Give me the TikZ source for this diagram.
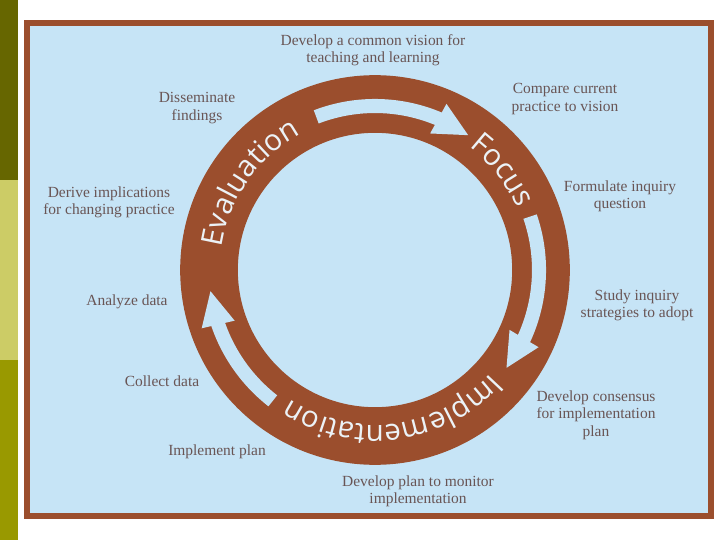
\documentclass[tikz,border=0pt]{standalone}
\usepackage{fontspec}
\setmainfont{Liberation Serif}
\newfontfamily\ringfont{Open Sans}
\usetikzlibrary{decorations.text,arrows.meta,bending}

\definecolor{ringbrown}{RGB}{155,78,45}
\definecolor{paleblue}{RGB}{198,228,246}
\definecolor{ringwhite}{RGB}{236,242,246}
\definecolor{labelgray}{RGB}{105,85,85}
\definecolor{olivedark}{RGB}{102,102,0}
\definecolor{olivelight}{RGB}{204,204,102}
\definecolor{olivemid}{RGB}{153,153,0}

\begin{document}
\begin{tikzpicture}[
 x=0.025cm, y=0.025cm,
 label/.style={text=labelgray, align=center, inner sep=0pt, font=\fontsize{11}{12.3}\selectfont},
 channel/.style={paleblue, line width=10pt, -{Triangle[width=22pt,length=25pt]}},
 ringtext/.style={decorate, decoration={text along path, text align=center, text color=ringwhite,
   text={|\ringfont\fontsize{21}{24}\selectfont|#1}}}
]
\useasboundingbox (0,0) rectangle (720,540);

% Randstreifen
\fill[olivemid] (0,0) rectangle (18,180);
\fill[olivelight] (0,180) rectangle (18,360);
\fill[olivedark] (0,360) rectangle (18,540);

% Rahmen
\draw[ringbrown, line width=3.9pt, fill=paleblue] (26.8,23.8) rectangle (711,517.2);

% Ring
\draw[ringbrown, line width=41pt] (375,270) circle[radius=166];

% Pfeile im Ring
\draw[channel] (375,270) ++(111:164) arc[start angle=111, end angle=55, radius=164];
\draw[channel] (375,270) ++(19:164) arc[start angle=19, end angle=-37, radius=164];
\draw[channel] (375,270) ++(232:166) arc[start angle=232, end angle=187, radius=166];

% Phasen
\path[ringtext=Evaluation] (375,270) ++(200:155) arc[start angle=200, end angle=90, radius=155];
\path[ringtext=Focus] (375,270) ++(70:155) arc[start angle=70, end angle=6, radius=155];
\path[ringtext=Implementation] (375,270) ++(-20:155) arc[start angle=-20, end angle=-145, radius=155];

% Schritte
\node[label] (vision) at (373,490) {Develop a common vision for\\teaching and learning};
\node[label] (compare) at (565,441) {Compare current\\practice to vision};
\node[label] (formulate) at (620,344) {Formulate inquiry\\question};
\node[label] (study) at (637,235) {Study inquiry\\strategies to adopt};
\node[label] (consensus) at (596,125) {Develop consensus\\for implementation\\plan};
\node[label] (monitor) at (418,49) {Develop plan to monitor\\implementation};
\node[label] (implement) at (217,88) {Implement plan};
\node[label] (collect) at (162,159) {Collect data};
\node[label] (analyze) at (127,238) {Analyze data};
\node[label] (derive) at (109,338) {Derive implications\\for changing practice};
\node[label] (disseminate) at (197,432) {Disseminate\\findings};

\end{tikzpicture}
\end{document}
